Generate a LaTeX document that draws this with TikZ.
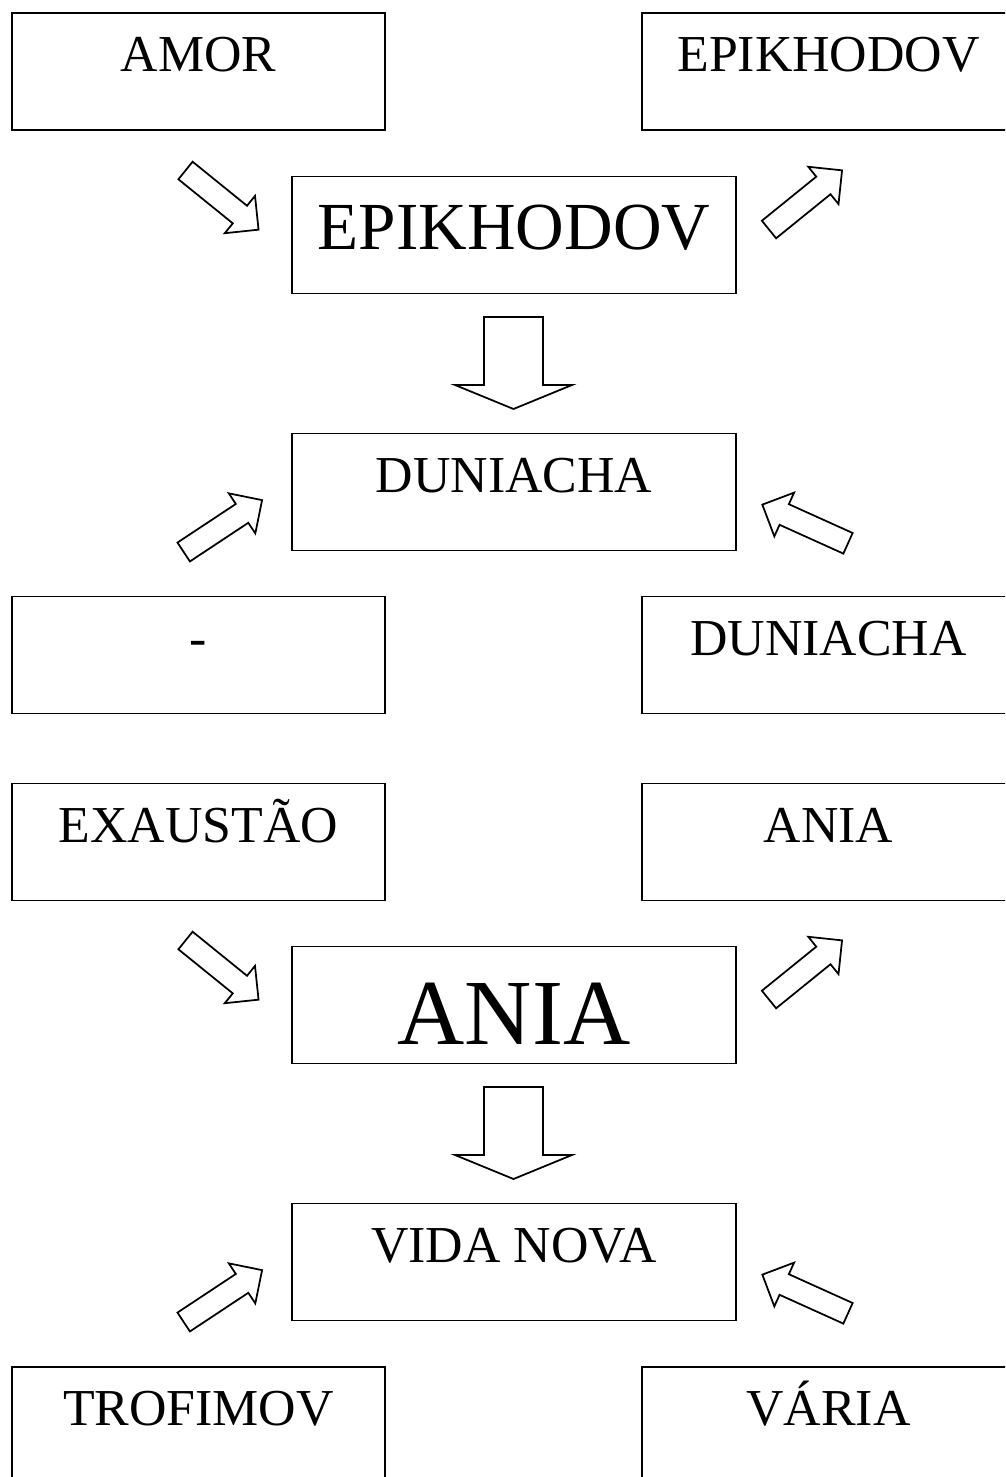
\documentclass[tikz,border=0pt]{standalone}
\usepackage{fontspec}
\setmainfont{Liberation Serif}
\usetikzlibrary{positioning}

\tikzset{
  box/.style={draw, rectangle, line width=1.1pt, inner sep=0pt, minimum width=7.46cm,
    text height=1.17cm, text depth=1.17cm, font=\fontsize{29.5pt}{35pt}\selectfont},
  midbox/.style={box, minimum width=8.88cm},
  arrowline/.style={line width=1pt, line join=miter},
  diagarrow/.pic={\draw[arrowline] (0,-11.3) -- (70,-11.3) -- (70,-24) -- (94,0) -- (70,24) -- (70,11.3) -- (0,11.3) -- cycle;},
  downarrow/.pic={\draw[arrowline] (0,-29.5) -- (68,-29.5) -- (68,-58.5) -- (92,0) -- (68,58.5) -- (68,29.5) -- (0,29.5) -- cycle;}
}

\begin{document}
\begin{tikzpicture}[x=0.02cm, y=-0.02cm]
    \useasboundingbox (0,0) rectangle (1005,1477);
    \clip (0,0) rectangle (1005,1477);

    \node[box] (amor) at (198.5,71.5) {AMOR};
    \node[box] (epikR) at (828.5,71.5) {EPIKHODOV};
    \node[midbox, font=\fontsize{38.3pt}{45pt}\selectfont, text height=1.46cm, text depth=0.88cm] (epik) at (514,235) {EPIKHODOV};
    \node[midbox] (dunia) at (514,492) {DUNIACHA};
    \node[box] (dash) at (198.5,655) {-};
    \node[box] (duniaR) at (828.5,655) {DUNIACHA};

    \node[box] (exaust) at (198.5,842) {EXAUSTÃO};
    \node[box] (aniaR) at (828.5,842) {ANIA};
    \node[midbox, font=\fontsize{53pt}{60pt}\selectfont, text height=1.96cm, text depth=0.38cm] (ania) at (514,1005) {ANIA};
    \node[midbox] (vida) at (514,1262) {VIDA NOVA};
    \node[box] (trof) at (198.5,1425.5) {TROFIMOV};
    \node[box] (varia) at (828.5,1425.5) {VÁRIA};

    \pic[rotate=-39] at (185.5,170.5) {diagarrow};
    \pic[rotate=39] at (769,229.5) {diagarrow};
    \pic[rotate=-90] at (513.5,317) {downarrow};
    \pic[rotate=33.5] at (183.7,552) {diagarrow};
    \pic[rotate=155.7] at (848,543.3) {diagarrow};

    \pic[rotate=-39] at (185.5,940.5) {diagarrow};
    \pic[rotate=39] at (769,999.5) {diagarrow};
    \pic[rotate=-90] at (513.5,1087) {downarrow};
    \pic[rotate=33.5] at (183.7,1322) {diagarrow};
    \pic[rotate=155.7] at (848,1313.3) {diagarrow};
\end{tikzpicture}
\end{document}
